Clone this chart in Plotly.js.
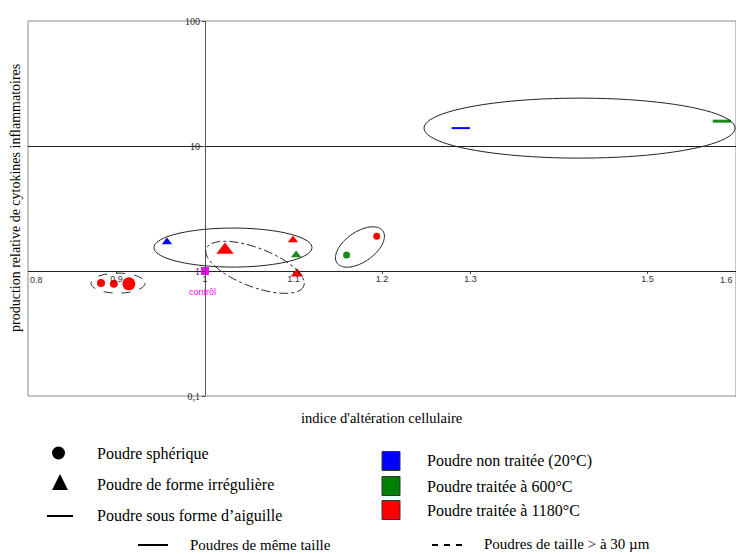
<!DOCTYPE html>
<html>
<head>
<meta charset="utf-8">
<script src="https://cdn.plot.ly/plotly-3.0.1.min.js"></script>
<style>html,body{margin:0;padding:0;background:#fff;}#chart{width:736px;height:554px;}</style>
</head>
<body>
<div id="chart"></div>
<script>
// ---- data ----
const redSphereX = [0.8825, 0.897, 0.914, 1.194];
const redSphereY = [0.80, 0.79, 0.79, 1.90];
const redSphereSize = [8, 8, 13, 7];
const greenSphereX = [1.16];
const greenSphereY = [1.34];
const redTriX = [1.0226, 1.0994, 1.104];
const redTriY = [1.47, 1.77, 0.95];
const redTriSize = [15, 9, 11];
const blueTriX = [0.957];
const blueTriY = [1.71];
const greenTriX = [1.103];
const greenTriY = [1.34];
const blueNeedleX = [1.289];
const blueNeedleY = [13.9];
const greenNeedleX = [1.584];
const greenNeedleY = [15.8];
const controlX = [1];
const controlY = [1];

const xTickVals = [0.9, 1, 1.1, 1.2, 1.3, 1.5];
const xTickText = ['0.9', '1', '1.1', '1.2', '1.3', '1.5'];
const xEdgeTickVals = [0.8, 1.6];
const xEdgeTickText = ['0.8', '1.6'];
const yTickVals = [0.1, 1, 10, 100];
const yTickText = ['0,1', '1', '10', '100'];

// grouping ellipses: centre (x, y), half axes (x units, decades), tilt (deg), dash
const ellipseCX = [0.9017, 1.0316, 1.1751, 1.4232, 1.0565];
const ellipseCY = [0.80, 1.54, 1.556, 13.9, 1.07];
const ellipseA = [0.0305, 0.0893, 0.0316, 0.1757, 0.0590];
const ellipseB = [0.080, 0.156, 0.120, 0.240, 0.155];
const ellipseTilt = [0, 0, 35, 0, -21];
const ellipseDash = ['dash', 'solid', 'solid', 'solid', 'dashdot'];

// legend texts
const shapeLegend = ['Poudre sphérique', 'Poudre de forme irrégulière', 'Poudre sous forme d\u2019aiguille'];
const colourLegend = ['Poudre non traitée (20°C)', 'Poudre traitée à 600°C', 'Poudre traitée à 1180°C'];
const colourLegendColours = ['#0000ff', '#008000', '#ff0000'];
const lineLegend = ['Poudres de même taille', 'Poudres de taille > à 30 µm'];

// ---- geometry ----
const ML = 28, MT = 21, W = 708, H = 375;
const XR = [0.8, 1.6], YR = [-1, 2];
const pxPerX = W / (XR[1] - XR[0]);
const pxPerDec = H / (YR[1] - YR[0]);
const px2paperX = p => (p - ML) / W;
const py2paperY = p => (MT + H - p) / H;
const xToPx = x => ML + (x - XR[0]) * pxPerX;
const yToPx = y => MT + (YR[1] - Math.log10(y)) * pxPerDec;

function ellipsePath(cx, cy, a, b, tilt) {
  const cxp = xToPx(cx), cyp = yToPx(cy);
  const ap = a * pxPerX, bp = b * pxPerDec;
  const th = -tilt * Math.PI / 180;
  let d = '';
  const n = 90;
  for (let i = 0; i <= n; i++) {
    const t = 2 * Math.PI * i / n;
    const ex = ap * Math.cos(t), ey = bp * Math.sin(t);
    const X = cxp + ex * Math.cos(th) - ey * Math.sin(th);
    const Y = cyp + ex * Math.sin(th) + ey * Math.cos(th);
    d += (i === 0 ? 'M' : 'L') + px2paperX(X).toFixed(5) + ',' + py2paperY(Y).toFixed(5);
  }
  return d + 'Z';
}

const RED = '#ff0000', GREEN = '#1b8a1b', BLUE = '#0000ff';
const mk = (symbol, color, size) => ({symbol: symbol, color: color, size: size, opacity: 1, line: {width: 0}});

const traces = [
  {x: redSphereX, y: redSphereY, mode: 'markers', marker: mk('circle', RED, redSphereSize)},
  {x: greenSphereX, y: greenSphereY, mode: 'markers', marker: mk('circle', GREEN, 7)},
  {x: redTriX, y: redTriY, mode: 'markers', marker: mk('triangle-up', RED, redTriSize)},
  {x: blueTriX, y: blueTriY, mode: 'markers', marker: mk('triangle-up', BLUE, 9)},
  {x: greenTriX, y: greenTriY, mode: 'markers', marker: mk('triangle-up', GREEN, 9)},
  {x: blueNeedleX, y: blueNeedleY, mode: 'markers', marker: {symbol: 'line-ew', size: 13, opacity: 1, line: {color: BLUE, width: 2}}},
  {x: greenNeedleX, y: greenNeedleY, mode: 'markers', marker: {symbol: 'line-ew', size: 13, opacity: 1, line: {color: GREEN, width: 3}}},
  {x: controlX, y: controlY, mode: 'markers', marker: mk('square', '#ff00ff', 8)}
];

const shapes = [];
shapes.push({type: 'rect', xref: 'paper', yref: 'paper', x0: 0, x1: 1, y0: 0, y1: 1, line: {color: '#8a8a8a', width: 1}, layer: 'below'});
for (let i = 0; i < ellipseCX.length; i++) {
  shapes.push({type: 'path', xref: 'paper', yref: 'paper', path: ellipsePath(ellipseCX[i], ellipseCY[i], ellipseA[i], ellipseB[i], ellipseTilt[i]),
    line: {color: '#222', width: 1, dash: ellipseDash[i]}});
}

const annotations = [];
// edge tick labels (0.8 and 1.6 sit at the frame edges)
annotations.push({x: xEdgeTickVals[0], y: 0, xref: 'x', yref: 'y', text: xEdgeTickText[0], showarrow: false,
  xanchor: 'left', yanchor: 'top', yshift: -2, xshift: 0,
  font: {family: 'Liberation Sans, Arial', size: 9, color: '#333'}});
annotations.push({x: xEdgeTickVals[1], y: 0, xref: 'x', yref: 'y', text: xEdgeTickText[1], showarrow: false,
  xanchor: 'right', yanchor: 'top', yshift: -2, xshift: -1,
  font: {family: 'Liberation Sans, Arial', size: 9, color: '#333'}});
// control label
annotations.push({x: 1, y: 0, xref: 'x', yref: 'y', text: 'contrôl', showarrow: false, yshift: -21, xshift: -3,
  xanchor: 'center', yanchor: 'middle',
  font: {family: 'Liberation Sans, Arial', size: 9, color: '#ff00ff'}});
// axis titles
annotations.push({xref: 'paper', yref: 'paper', x: px2paperX(381), y: py2paperY(418), xanchor: 'center', yanchor: 'middle',
  text: 'indice d\'altération cellulaire', showarrow: false,
  font: {family: 'Liberation Serif', size: 14.5, color: '#000'}});
annotations.push({xref: 'paper', yref: 'paper', x: px2paperX(15), y: py2paperY(198), xanchor: 'center', yanchor: 'middle',
  text: 'production relative de cytokines inflammatoires', showarrow: false, textangle: -90,
  font: {family: 'Liberation Serif', size: 14, color: '#000'}});

// legend
const legFont = {family: 'Liberation Serif', size: 16, color: '#000'};
const botFont = {family: 'Liberation Serif', size: 15, color: '#000'};
const shapeRowsY = [454, 485, 516];
const colourRowsY = [461, 486, 510];
shapes.push({type: 'circle', xref: 'paper', yref: 'paper', x0: px2paperX(52), x1: px2paperX(65), y0: py2paperY(459.5), y1: py2paperY(446.5), fillcolor: '#000', line: {color: '#000', width: 0}});
shapes.push({type: 'path', xref: 'paper', yref: 'paper', fillcolor: '#000', line: {color: '#000', width: 0},
  path: 'M' + px2paperX(52) + ',' + py2paperY(490) + 'L' + px2paperX(68) + ',' + py2paperY(490) + 'L' + px2paperX(60) + ',' + py2paperY(474) + 'Z'});
shapes.push({type: 'line', xref: 'paper', yref: 'paper', x0: px2paperX(47), x1: px2paperX(73), y0: py2paperY(516), y1: py2paperY(516), line: {color: '#000', width: 2}});
for (let i = 0; i < 3; i++) {
  annotations.push({xref: 'paper', yref: 'paper', x: px2paperX(95), y: py2paperY(shapeRowsY[i]), xanchor: 'left', yanchor: 'middle',
    text: shapeLegend[i], showarrow: false, font: legFont});
  const cy = colourRowsY[i];
  shapes.push({type: 'rect', xref: 'paper', yref: 'paper', x0: px2paperX(382), x1: px2paperX(400), y0: py2paperY(cy + 9.5), y1: py2paperY(cy - 9.5),
    fillcolor: colourLegendColours[i], line: {color: '#333', width: 1}});
  annotations.push({xref: 'paper', yref: 'paper', x: px2paperX(425), y: py2paperY(cy), xanchor: 'left', yanchor: 'middle',
    text: colourLegend[i], showarrow: false, font: legFont});
}
shapes.push({type: 'line', xref: 'paper', yref: 'paper', x0: px2paperX(138), x1: px2paperX(168), y0: py2paperY(545), y1: py2paperY(545), line: {color: '#000', width: 2}});
shapes.push({type: 'line', xref: 'paper', yref: 'paper', x0: px2paperX(432), x1: px2paperX(462), y0: py2paperY(545), y1: py2paperY(545), line: {color: '#000', width: 2, dash: '6px,6px'}});
annotations.push({xref: 'paper', yref: 'paper', x: px2paperX(188), y: py2paperY(545), xanchor: 'left', yanchor: 'middle', text: lineLegend[0], showarrow: false, font: botFont});
annotations.push({xref: 'paper', yref: 'paper', x: px2paperX(482), y: py2paperY(544), xanchor: 'left', yanchor: 'middle', text: lineLegend[1], showarrow: false, font: botFont});

const layout = {
  width: 736, height: 554,
  margin: {l: ML, t: MT, r: 736 - ML - W, b: 554 - MT - H, pad: 0},
  paper_bgcolor: '#fff', plot_bgcolor: '#fff',
  showlegend: false,
  xaxis: {
    range: XR, anchor: 'free', position: (0 - YR[0]) / (YR[1] - YR[0]),
    tickvals: xTickVals, ticktext: xTickText, ticks: 'outside', ticklen: 2, tickcolor: '#444',
    ticklabelstandoff: -3,
    showgrid: false, zeroline: false, showline: false,
    tickfont: {family: 'Liberation Sans, Arial', size: 9, color: '#333'}
  },
  yaxis: {
    type: 'log', range: YR, anchor: 'free', position: (1 - XR[0]) / (XR[1] - XR[0]),
    tickvals: yTickVals, ticktext: yTickText, ticks: 'outside', ticklen: 3, tickcolor: '#444',
    showgrid: true, gridcolor: '#222', gridwidth: 1, zeroline: false,
    showline: true, linecolor: '#555', linewidth: 1,
    tickfont: {family: 'Liberation Serif', size: 10, color: '#222'}
  },
  shapes: shapes,
  annotations: annotations
};

Plotly.newPlot('chart', traces, layout, {staticPlot: true, displayModeBar: false});
</script>
</body>
</html>
